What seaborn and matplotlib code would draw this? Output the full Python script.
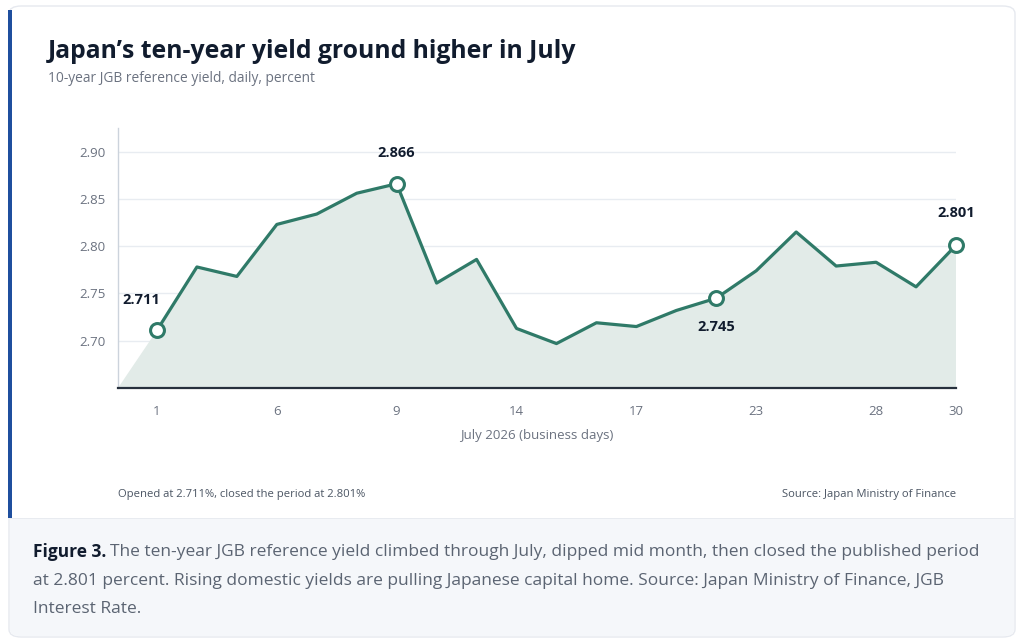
import pandas as pd
import matplotlib.pyplot as plt
import seaborn as sns
from matplotlib.patches import FancyBboxPatch, Rectangle

# Daily 10-year JGB reference yield, July 2026 business days
days = [1, 2, 3, 6, 7, 8, 9, 10, 13, 14, 15, 16, 17, 21, 22, 23, 24, 27, 28, 29, 30]
yields = [2.711, 2.778, 2.768, 2.823, 2.834, 2.856, 2.866, 2.761, 2.786, 2.713,
          2.697, 2.719, 2.715, 2.732, 2.745, 2.774, 2.815, 2.779, 2.783, 2.757, 2.801]
tick_days = [1, 6, 9, 14, 17, 23, 28, 30]
highlight_days = [1, 9, 22, 30]
y_ticks = [2.70, 2.75, 2.80, 2.85, 2.90]

df = pd.DataFrame({"day": days, "yield": yields})
df["pos"] = range(len(df))

LINE = "#2f7a68"
FILL = "#e2ebe8"
DARK = "#111c2e"
GRAY = "#6b7280"

sns.set_theme(style="white")
plt.rcParams["font.family"] = ["Open Sans", "DejaVu Sans"]

fig = plt.figure(figsize=(10.24, 6.43), dpi=100)
W, H = 1024, 643


def fx(px):
    return px / W


def fy(py):
    return 1 - py / H


# Card background, caption panel and accent bar
fig.patches.append(FancyBboxPatch((fx(9), fy(637)), fx(1006), (637 - 6) / H,
                                  boxstyle="round,pad=0,rounding_size=0.012",
                                  transform=fig.transFigure, facecolor="white",
                                  edgecolor="#e6e9ef", linewidth=1, zorder=0))
fig.patches.append(FancyBboxPatch((fx(10), fy(636)), fx(1004), (636 - 519) / H,
                                  boxstyle="round,pad=0,rounding_size=0.01",
                                  transform=fig.transFigure, facecolor="#f5f7fa",
                                  edgecolor="none", zorder=1))
fig.patches.append(Rectangle((fx(10), fy(528)), fx(1004), 10 / H,
                             transform=fig.transFigure, facecolor="#f5f7fa",
                             edgecolor="none", zorder=1))
fig.patches.append(Rectangle((fx(10), fy(519)), fx(1004), 1 / H,
                             transform=fig.transFigure, facecolor="#e8ebf0",
                             edgecolor="none", zorder=1))
fig.patches.append(Rectangle((fx(8), fy(518)), fx(4), (518 - 10) / H,
                             transform=fig.transFigure, facecolor="#1f4f9e",
                             edgecolor="none", zorder=2))

ax = fig.add_axes([fx(118), fy(388), fx(956 - 118), (388 - 128) / H])
ax.set_zorder(5)
ax.set_facecolor("none")
ax.set_xlim(-0.975, len(df) - 1)
ax.set_ylim(2.65, 2.925)

# Area under the line, anchored to the left edge of the axes
x0, _ = ax.get_xlim()
y0, _ = ax.get_ylim()
ax.fill([x0] + list(df["pos"]) + [df["pos"].iloc[-1]],
        [y0] + list(df["yield"]) + [y0], color=FILL, lw=0, zorder=1)

sns.lineplot(data=df, x="pos", y="yield", color=LINE, linewidth=2.3, ax=ax, zorder=3)

hl = df[df["day"].isin(highlight_days)]
ax.plot(hl["pos"], hl["yield"], "o", ms=10, mfc="white", mec=LINE, mew=2.2,
        zorder=4, clip_on=False)

offsets = {1: (-11, 22), 9: (0, 22), 22: (0, -21), 30: (0, 23)}
for _, r in hl.iterrows():
    ax.annotate(f"{r['yield']:.3f}", (r["pos"], r["yield"]),
                xytext=offsets[r["day"]], textcoords="offset points",
                ha="center", va="center", fontsize=10.5, fontweight="bold",
                color=DARK, zorder=5, annotation_clip=False)

ax.set_yticks(y_ticks)
ax.set_yticklabels([f"{v:.2f}" for v in y_ticks])
ax.set_xticks(df.loc[df["day"].isin(tick_days), "pos"])
ax.set_xticklabels(tick_days)
ax.tick_params(axis="both", length=0, labelsize=9.5, labelcolor=GRAY)
ax.tick_params(axis="y", pad=9)
ax.tick_params(axis="x", pad=12)
ax.grid(axis="y", color="#e8ecf1", linewidth=1)
ax.set_axisbelow(True)
for s in ["top", "right"]:
    ax.spines[s].set_visible(False)
ax.spines["left"].set_color("#ccd3dc")
ax.spines["left"].set_linewidth(1)
ax.spines["bottom"].set_color("#27303d")
ax.spines["bottom"].set_linewidth(1.6)
ax.spines["bottom"].set_zorder(6)
ax.set_xlabel("July 2026 (business days)", fontsize=9.5, color=GRAY, labelpad=8)
ax.set_ylabel("")

# Titles
fig.text(fx(48), fy(51), "Japan\u2019s ten-year yield ground higher in July",
         fontsize=17.8, fontweight="bold", color=DARK, va="center")
fig.text(fx(48), fy(79), "10-year JGB reference yield, daily, percent",
         fontsize=9.9, color=GRAY, va="center")

# Footer notes
fig.text(fx(118), fy(494), "Opened at 2.711%, closed the period at 2.801%",
         fontsize=8.1, color="#4b5563", va="center")
fig.text(fx(956), fy(494), "Source: Japan Ministry of Finance",
         fontsize=8.1, color="#4b5563", va="center", ha="right")

# Caption
cap_size = 12.5
bold = fig.text(fx(33), fy(552), "Figure 3.", fontsize=cap_size, fontweight="bold",
                color=DARK, va="center")
fig.canvas.draw()
bb = bold.get_window_extent(fig.canvas.get_renderer())
fig.text(bb.x1 / W + fx(4), fy(552),
         "The ten-year JGB reference yield climbed through July, dipped mid month, then closed the published period",
         fontsize=cap_size, color="#5b6472", va="center")
fig.text(fx(33), fy(581),
         "at 2.801 percent. Rising domestic yields are pulling Japanese capital home. Source: Japan Ministry of Finance, JGB",
         fontsize=cap_size, color="#5b6472", va="center")
fig.text(fx(33), fy(609), "Interest Rate.", fontsize=cap_size, color="#5b6472", va="center")

fig.savefig("out.png", dpi=100, facecolor="white")
plt.close(fig)
